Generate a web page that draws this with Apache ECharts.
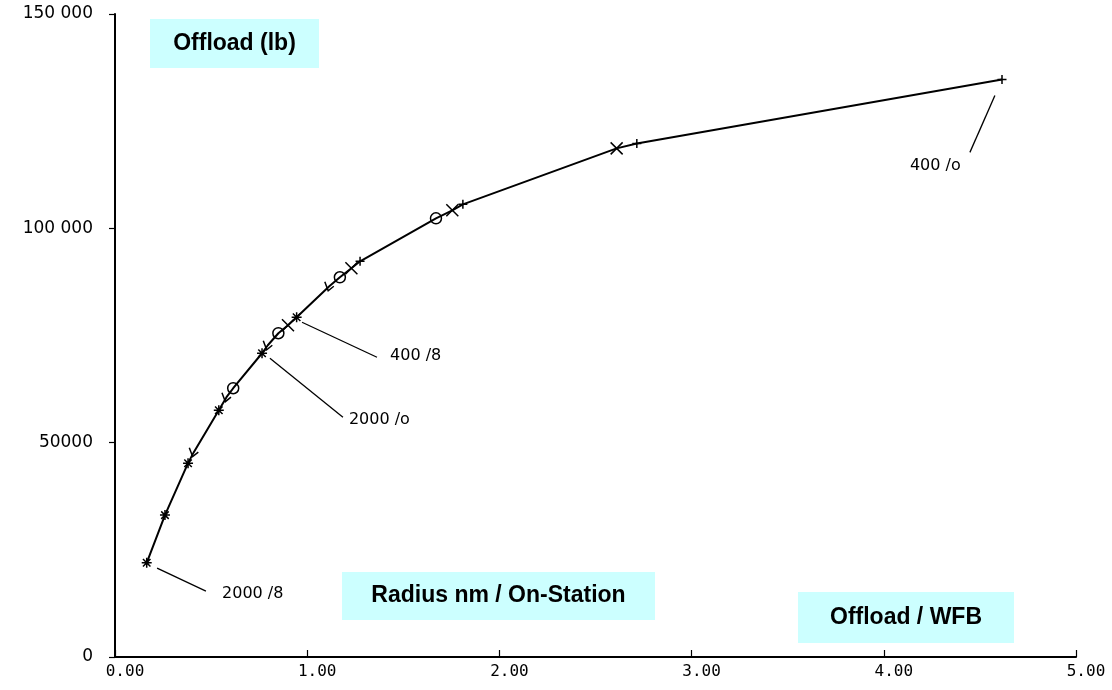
<!DOCTYPE html>
<html>
<head>
<meta charset="utf-8">
<script src="https://cdn.jsdelivr.net/npm/echarts@6/dist/echarts.min.js"></script>
<style>html,body{margin:0;padding:0;background:#fff;}#c{width:1112px;height:690px;}</style>
</head>
<body>
<div id="c"></div>
<script>
// ---- data ----
const pointX = [0.165,0.26,0.38,0.41,0.54,0.58,0.615,0.765,0.795,0.85,0.90,0.945,1.115,1.17,1.23,1.275,1.67,1.755,1.81,2.61,2.715,4.615];
const pointY = [21980,33100,45220,47790,57580,60610,62700,70860,72730,75530,77390,79260,86480,88580,90680,92310,102330,104200,105600,118650,119800,134700];
const pointMark = ['*','*','*','v','*','v','o','*','v','o','x','*','v','o','x','+','o','x','+','x','+','+'];

const yTickValues = [0, 50000, 100000, 150000];
const yTickLabels = ['0', '50000', '100 000', '150 000'];
const xTickValues = [0, 1, 2, 3, 4, 5];
const xTickLabels = ['0.00', '1.00', '2.00', '3.00', '4.00', '5.00'];

// annotations: leader line start, leader line end, label anchor, text
const noteText = ['2000 /8', '2000 /o', '400 /8', '400 /o'];
const noteLineFrom = [[0.219, 20750], [0.806, 69700], [0.973, 78090], [4.578, 131000]];
const noteLineTo = [[0.473, 15380], [1.186, 55940], [1.363, 69930], [4.448, 117720]];
const noteLabelAt = [[0.557, 14690], [1.217, 55240], [1.431, 70160], [4.136, 114690]];

const boxTitles = ['Offload (lb)', 'Radius nm / On-Station', 'Offload / WFB'];

// ---- chart ----
const symbolPaths = {
  '*': 'path://M0,-6L0,6M-6,0L6,0M-4.5,-4.5L4.5,4.5M-4.5,4.5L4.5,-4.5',
  'v': 'path://M-3,-6L0,4L5,-1',
  'o': 'circle',
  'x': 'path://M-6,-6L6,6M-6,6L6,-6',
  '+': 'path://M0,-5L0,5M-5,0L5,0'
};
const symbolSizes = {'*': 10, 'v': 9, 'o': 11, 'x': 12, '+': 9};

const chart = echarts.init(document.getElementById('c'), null, {renderer: 'canvas'});

const series = [];
series.push({
  type: 'line',
  data: pointX.map((x, i) => [x, pointY[i]]),
  symbol: 'none',
  lineStyle: {color: '#000', width: 2},
  silent: true,
  z: 3
});
Object.keys(symbolPaths).forEach(k => {
  const d = [];
  pointX.forEach((x, i) => { if (pointMark[i] === k) d.push([x, pointY[i]]); });
  series.push({
    type: 'scatter',
    data: d,
    symbol: symbolPaths[k],
    symbolSize: symbolSizes[k],
    itemStyle: {color: 'transparent', borderColor: '#000', borderWidth: 1.5, opacity: 1},
    silent: true,
    z: 4
  });
});
noteText.forEach((t, i) => {
  series.push({
    type: 'line',
    data: [noteLineFrom[i], noteLineTo[i]],
    symbol: 'none',
    lineStyle: {color: '#000', width: 1.3},
    silent: true,
    z: 3
  });
});
series.push({
  type: 'scatter',
  data: noteLabelAt.map((p, i) => [p[0], p[1], noteText[i]]),
  symbol: 'rect',
  symbolSize: 0,
  itemStyle: {color: '#000', opacity: 1},
  label: {
    show: true,
    position: 'right',
    distance: 0,
    formatter: p => p.data[2],
    fontFamily: 'DejaVu Sans',
    fontSize: 16,
    color: '#000',
    opacity: 1,
    textBorderWidth: 0
  },
  silent: true,
  z: 5
});

function boxGraphic(x, y, w, h, text) {
  return [
    {type: 'rect', shape: {x: x, y: y, width: w, height: h}, style: {fill: '#ccffff'}, z: 1},
    {type: 'text', x: x + w / 2, y: y + h / 2, style: {
      text: text, align: 'center', verticalAlign: 'middle',
      fontFamily: '"Liberation Sans", Arial, sans-serif', fontWeight: 'bold', fontSize: 23, fill: '#000'
    }, z: 2}
  ];
}

chart.setOption({
  animation: false,
  backgroundColor: '#fff',
  grid: {left: 115, right: 36, top: 14, bottom: 33},
  xAxis: {
    type: 'value', min: 0, max: 5, interval: 1,
    axisLine: {show: true, lineStyle: {color: '#000', width: 2}},
    axisTick: {show: true, inside: true, length: 7, lineStyle: {color: '#000', width: 1.2}},
    splitLine: {show: false},
    axisLabel: {
      margin: 7,
      fontFamily: '"DejaVu Sans Mono", monospace',
      fontSize: 16,
      color: '#000',
      padding: [0, 0, 0, 20],
      formatter: v => { const i = xTickValues.indexOf(v); return i >= 0 ? xTickLabels[i] : ''; }
    }
  },
  yAxis: {
    type: 'value', min: 0, max: 150000, interval: 50000,
    axisLine: {show: true, lineStyle: {color: '#000', width: 2}},
    axisTick: {show: true, inside: false, length: 6, lineStyle: {color: '#000', width: 1.2}},
    splitLine: {show: false},
    axisLabel: {
      margin: 22,
      fontFamily: 'DejaVu Sans',
      fontSize: 17,
      color: '#000',
      formatter: v => { const i = yTickValues.indexOf(v); return i >= 0 ? yTickLabels[i] : ''; }
    }
  },
  graphic: [].concat(
    boxGraphic(150, 19, 169, 49, boxTitles[0]),
    boxGraphic(342, 572, 313, 48, boxTitles[1]),
    boxGraphic(798, 592, 216, 51, boxTitles[2])
  ),
  series: series
});
</script>
</body>
</html>
